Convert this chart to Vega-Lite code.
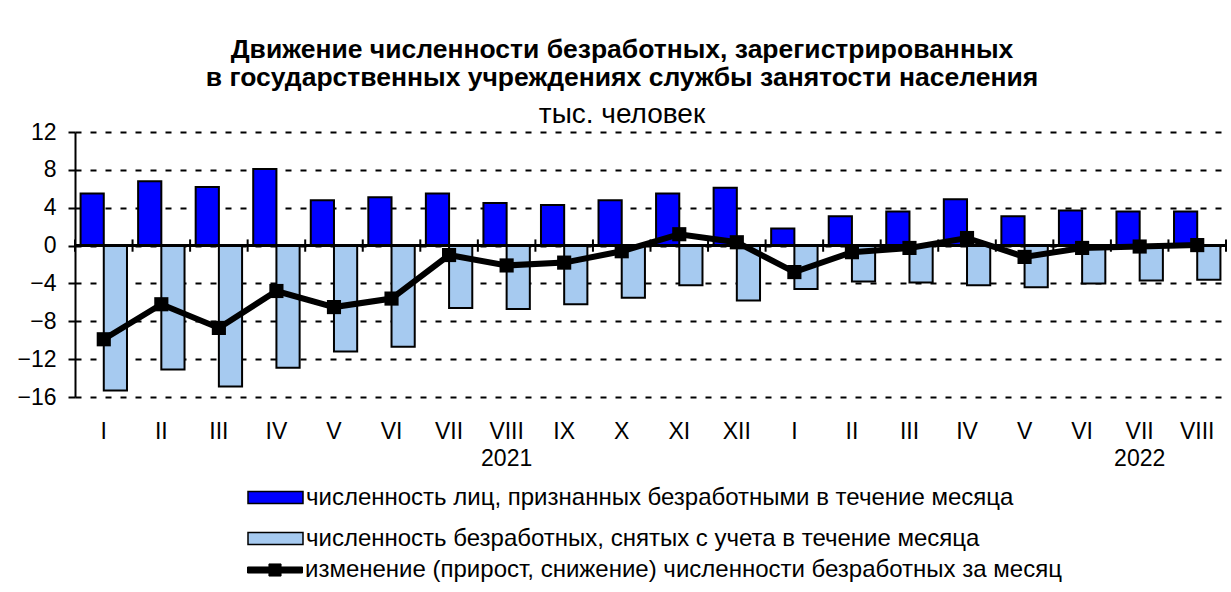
{
  "$schema": "https://vega.github.io/schema/vega-lite/v6.json",
  "width": 1151,
  "height": 265,
  "autosize": {"type": "none"},
  "padding": {"left": 75, "top": 132, "right": 5, "bottom": 195},
  "background": "white",
  "config": {
    "font": "Liberation Sans",
    "view": {"stroke": null},
    "axis": {"labelFont": "Liberation Sans", "labelColor": "black"}
  },
  "title": {
    "text": ["Движение численности безработных, зарегистрированных", "в государственных учреждениях службы занятости населения"],
    "subtitle": "тыс. человек",
    "anchor": "middle",
    "frame": "bounds",
    "font": "Liberation Sans",
    "fontSize": 26.5,
    "fontWeight": "bold",
    "lineHeight": 28,
    "color": "black",
    "subtitleFont": "Liberation Sans",
    "subtitleFontSize": 28,
    "subtitleColor": "black",
    "subtitlePadding": 10,
    "offset": -8
  },
  "data": {
    "values": [
      {"p": "2021-I", "s": "a", "v": 5.5}, {"p": "2021-I", "s": "b", "v": -15.3}, {"p": "2021-I", "s": "c", "v": -9.9},
      {"p": "2021-II", "s": "a", "v": 6.8}, {"p": "2021-II", "s": "b", "v": -13.1}, {"p": "2021-II", "s": "c", "v": -6.2},
      {"p": "2021-III", "s": "a", "v": 6.2}, {"p": "2021-III", "s": "b", "v": -14.9}, {"p": "2021-III", "s": "c", "v": -8.7},
      {"p": "2021-IV", "s": "a", "v": 8.1}, {"p": "2021-IV", "s": "b", "v": -12.9}, {"p": "2021-IV", "s": "c", "v": -4.8},
      {"p": "2021-V", "s": "a", "v": 4.8}, {"p": "2021-V", "s": "b", "v": -11.2}, {"p": "2021-V", "s": "c", "v": -6.5},
      {"p": "2021-VI", "s": "a", "v": 5.1}, {"p": "2021-VI", "s": "b", "v": -10.7}, {"p": "2021-VI", "s": "c", "v": -5.6},
      {"p": "2021-VII", "s": "a", "v": 5.5}, {"p": "2021-VII", "s": "b", "v": -6.6}, {"p": "2021-VII", "s": "c", "v": -1.0},
      {"p": "2021-VIII", "s": "a", "v": 4.5}, {"p": "2021-VIII", "s": "b", "v": -6.7}, {"p": "2021-VIII", "s": "c", "v": -2.1},
      {"p": "2021-IX", "s": "a", "v": 4.3}, {"p": "2021-IX", "s": "b", "v": -6.2}, {"p": "2021-IX", "s": "c", "v": -1.8},
      {"p": "2021-X", "s": "a", "v": 4.8}, {"p": "2021-X", "s": "b", "v": -5.5}, {"p": "2021-X", "s": "c", "v": -0.6},
      {"p": "2021-XI", "s": "a", "v": 5.5}, {"p": "2021-XI", "s": "b", "v": -4.2}, {"p": "2021-XI", "s": "c", "v": 1.2},
      {"p": "2021-XII", "s": "a", "v": 6.1}, {"p": "2021-XII", "s": "b", "v": -5.8}, {"p": "2021-XII", "s": "c", "v": 0.35},
      {"p": "2022-I", "s": "a", "v": 1.8}, {"p": "2022-I", "s": "b", "v": -4.6}, {"p": "2022-I", "s": "c", "v": -2.8},
      {"p": "2022-II", "s": "a", "v": 3.1}, {"p": "2022-II", "s": "b", "v": -3.8}, {"p": "2022-II", "s": "c", "v": -0.7},
      {"p": "2022-III", "s": "a", "v": 3.6}, {"p": "2022-III", "s": "b", "v": -3.9}, {"p": "2022-III", "s": "c", "v": -0.25},
      {"p": "2022-IV", "s": "a", "v": 4.9}, {"p": "2022-IV", "s": "b", "v": -4.2}, {"p": "2022-IV", "s": "c", "v": 0.8},
      {"p": "2022-V", "s": "a", "v": 3.1}, {"p": "2022-V", "s": "b", "v": -4.4}, {"p": "2022-V", "s": "c", "v": -1.2},
      {"p": "2022-VI", "s": "a", "v": 3.7}, {"p": "2022-VI", "s": "b", "v": -4.0}, {"p": "2022-VI", "s": "c", "v": -0.25},
      {"p": "2022-VII", "s": "a", "v": 3.6}, {"p": "2022-VII", "s": "b", "v": -3.7}, {"p": "2022-VII", "s": "c", "v": -0.1},
      {"p": "2022-VIII", "s": "a", "v": 3.6}, {"p": "2022-VIII", "s": "b", "v": -3.6}, {"p": "2022-VIII", "s": "c", "v": 0.05}
    ]
  },
  "encoding": {
    "x": {
      "field": "p",
      "type": "ordinal",
      "sort": null,
      "scale": {"paddingInner": 0, "paddingOuter": 0},
      "axis": {
        "title": null,
        "domain": false,
        "ticks": false,
        "labelAngle": 0,
        "labelFontSize": 23,
        "labelPadding": 23,
        "labelLineHeight": 27,
        "labelBaseline": "top",
        "labelOverlap": false,
        "labelExpr": "datum.value == '2021-VIII' ? ['VIII', '2021'] : datum.value == '2022-VII' ? ['VII', '2022'] : split(datum.value, '-')[1]"
      }
    }
  },
  "layer": [
    {
      "transform": [{"filter": "datum.s != 'c'"}],
      "mark": {"type": "bar", "stroke": "black", "strokeWidth": 2, "strokeJoin": "miter"},
      "encoding": {
        "xOffset": {"field": "s", "type": "nominal", "scale": {"domain": ["a", "b"], "paddingInner": 0, "paddingOuter": 0.24}},
        "y": {
          "field": "v",
          "type": "quantitative",
          "scale": {"domain": [-16, 12], "nice": false, "zero": false},
          "axis": {
            "title": null,
            "values": [-16, -12, -8, -4, 0, 4, 8, 12],
            "tickCount": 20,
            "labelOverlap": false,
            "domainColor": "black",
            "domainWidth": 2,
            "tickColor": "black",
            "tickWidth": 2,
            "tickSize": 7,
            "labelFontSize": 23,
            "labelPadding": 12,
            "grid": true,
            "gridColor": "black",
            "gridWidth": 2,
            "gridDash": [6, 9],
            "gridOpacity": 1
          }
        },
        "color": {
          "field": "s",
          "type": "nominal",
          "scale": {"domain": ["a", "b"], "range": ["#0000FF", "#A6CAF0"]},
          "legend": {
            "title": null,
            "orient": "none",
            "legendX": 172,
            "legendY": 337,
            "direction": "vertical",
            "padding": 0,
            "rowPadding": -10,
            "labelFontSize": 24,
            "labelColor": "black",
            "labelLimit": 0,
            "labelOffset": 2,
            "symbolType": "M-1,-0.22H1V0.22H-1Z",
            "symbolSize": 3025,
            "symbolOffset": 0,
            "symbolStrokeColor": "black",
            "symbolStrokeWidth": 1.5,
            "symbolOpacity": 1,
            "labelExpr": "datum.value == 'a' ? 'численность лиц, признанных безработными в течение месяца' : 'численность безработных, снятых с учета в течение месяца'"
          }
        }
      }
    },
    {
      "mark": {"type": "rule", "color": "black", "strokeWidth": 2},
      "encoding": {"y": {"datum": 0}, "x": null}
    },
    {
      "transform": [{"filter": "datum.s == 'a'"}],
      "mark": {"type": "rule", "color": "black", "strokeWidth": 2},
      "encoding": {
        "x": {"field": "p", "type": "ordinal", "sort": null, "bandPosition": 0},
        "y": {"datum": 0.65},
        "y2": {"datum": -0.65}
      }
    },
    {
      "transform": [{"filter": "datum.p == '2022-VIII' && datum.s == 'a'"}],
      "mark": {"type": "rule", "color": "black", "strokeWidth": 2},
      "encoding": {
        "x": {"field": "p", "type": "ordinal", "sort": null, "bandPosition": 1},
        "y": {"datum": 0.65},
        "y2": {"datum": -0.65}
      }
    },
    {
      "transform": [{"filter": "datum.s == 'c'"}],
      "mark": {"type": "line", "color": "black", "strokeWidth": 6, "strokeJoin": "miter"},
      "encoding": {
        "y": {"field": "v", "type": "quantitative"},
        "opacity": {
          "field": "s",
          "type": "nominal",
          "scale": {"domain": ["c"], "range": [1]},
          "legend": {
            "title": null,
            "orient": "none",
            "legendX": 172,
            "legendY": 410,
            "direction": "vertical",
            "padding": 0,
            "labelFontSize": 24,
            "labelColor": "black",
            "labelLimit": 0,
            "labelOffset": 2,
            "symbolType": "M-1,-0.11H-0.22V-0.22H0.22V-0.11H1V0.11H0.22V0.22H-0.22V0.11H-1Z",
            "symbolSize": 3025,
            "symbolOffset": 0,
            "symbolFillColor": "black",
            "symbolStrokeColor": "black",
            "symbolStrokeWidth": 1,
            "labelExpr": "'изменение (прирост, снижение) численности безработных за месяц'"
          }
        }
      }
    },
    {
      "transform": [{"filter": "datum.s == 'c'"}],
      "mark": {"type": "point", "shape": "square", "filled": true, "color": "black", "size": 200, "opacity": 1},
      "encoding": {
        "y": {"field": "v", "type": "quantitative"}
      }
    }
  ]
}
